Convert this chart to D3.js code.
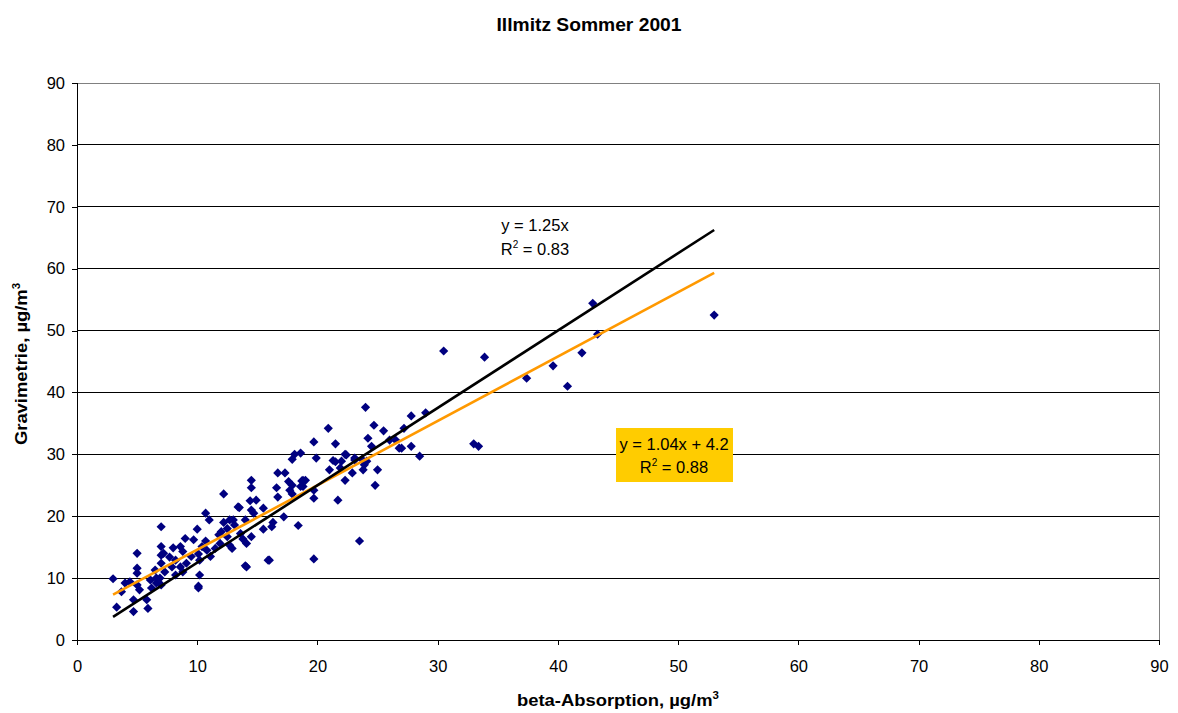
<!DOCTYPE html>
<html><head><meta charset="utf-8">
<script src="https://cdn.jsdelivr.net/npm/d3@7"></script>
<style>body{margin:0;background:#fff}svg{display:block}text{font-family:"Liberation Sans",Arial,sans-serif}</style>
</head><body><svg id="c" width="1178" height="713"></svg>
<script>
const title = "Illmitz Sommer 2001";
const xTicks = [0,10,20,30,40,50,60,70,80,90];
const yTicks = [0,10,20,30,40,50,60,70,80,90];
const beta = [53.0,42.9,43.3,42.0,40.8,39.6,37.4,30.5,33.9,33.0,33.4,23.5,19.7,15.9,14.1,29.0,27.8,28.5,27.8,27.0,27.2,26.5,25.0,24.8,25.5,24.7,24.0,24.2,24.5,23.7,23.1,22.9,22.3,22.0,22.3,21.7,21.5,21.0,21.5,20.9,23.9,24.1,19.7,26.0,26.8,18.6,19.9,21.3,22.4,23.1,21.9,23.8,18.8,18.6,19.7,19.7,18.1,17.9,16.7,17.3,14.5,14.5,16.6,17.6,17.9,18.7,19.0,18.8,17.7,17.9,16.7,14.4,14.9,13.5,14.5,15.5,14.7,17.2,13.0,14.0,16.3,16.2,15.5,18.4,13.6,14.5,13.8,14.1,12.9,16.0,14.0,12.2,10.7,11.0,7.0,10.0,12.2,12.7,13.1,12.5,12.0,11.8,9.0,9.7,12.7,7.0,8.0,8.6,8.8,10.4,10.8,11.5,11.9,12.5,7.0,7.7,8.2,9.5,10.1,11.1,7.0,7.9,8.6,9.1,10.2,6.5,7.3,8.2,8.8,10.2,6.6,10.1,7.2,5.0,5.0,5.0,3.0,4.0,4.4,5.0,5.2,6.1,6.9,6.6,7.0,6.2,3.7,4.7,5.8,5.9,3.3,4.7,10.1,10.7,13.4];
const gravi = [52.5,54.4,49.4,46.4,41.0,44.3,42.3,46.7,45.7,31.7,31.3,16.0,13.1,12.9,11.8,36.7,36.2,29.7,31.3,31.0,34.2,32.3,27.5,25.0,33.8,34.7,37.6,32.6,31.3,29.2,29.1,27.0,30.0,28.9,25.8,22.6,28.8,27.5,31.7,34.2,28.3,28.9,32.0,32.3,31.0,30.2,29.4,29.0,29.9,29.4,27.8,27.5,25.8,24.8,24.2,22.9,30.0,29.2,27.0,27.0,25.8,24.6,24.6,25.6,25.0,25.7,25.8,24.8,24.2,23.6,23.1,22.5,22.6,21.4,21.0,21.3,20.5,19.9,19.4,19.4,19.0,18.3,17.9,18.5,17.2,16.7,16.3,15.6,14.8,12.9,12.0,23.6,20.5,19.4,18.3,17.9,19.0,19.4,18.6,18.0,17.5,17.0,16.4,16.2,15.3,15.1,14.9,15.1,14.3,15.1,14.5,14.8,15.6,16.7,13.7,13.4,12.9,13.5,13.9,13.5,12.4,11.8,11.8,12.4,12.9,11.3,11.0,10.5,11.0,10.5,10.0,8.7,14.0,14.0,11.6,10.8,9.9,9.2,9.4,8.9,8.1,9.7,10.0,9.2,8.9,8.4,7.8,6.5,6.5,5.1,5.3,4.6,8.4,16.0,21.5];
const fitX = [3,53];
const fit1 = {slope:1.25, intercept:0, label1:"y = 1.25x", r2:"0.83"};
const fit2 = {slope:1.04, intercept:4.2, label1:"y = 1.04x + 4.2", r2:"0.88"};

const svg = d3.select("#c");
const L=77, R=1159, T=83, B=640;
const x = d3.scaleLinear().domain([0,90]).range([L,R]);
const y = d3.scaleLinear().domain([0,90]).range([B,T]);

svg.append("text").attr("x",0).attr("y",0).attr("text-anchor","middle")
  .attr("font-size",18).attr("font-weight","bold").attr("transform","translate(589,31) scale(1.07,1)").text(title);

// grid
svg.append("g").selectAll("line").data(yTicks.filter(d=>d>0 && d<90)).join("line")
  .attr("x1",L).attr("x2",R).attr("y1",d=>y(d)).attr("y2",d=>y(d)).attr("stroke","#000").attr("stroke-width",1).attr("shape-rendering","crispEdges");
svg.append("line").attr("x1",L).attr("x2",R).attr("y1",T).attr("y2",T).attr("stroke","#808080").attr("shape-rendering","crispEdges");
svg.append("line").attr("x1",R).attr("x2",R).attr("y1",T).attr("y2",B).attr("stroke","#808080").attr("shape-rendering","crispEdges");

const xa = svg.append("g").attr("transform",`translate(0,${B})`).call(d3.axisBottom(x).tickValues(xTicks).tickSize(5).tickPadding(15));
const ya = svg.append("g").attr("transform",`translate(${L},0)`).call(d3.axisLeft(y).tickValues(yTicks).tickSize(5).tickPadding(7));
[xa,ya].forEach(a=>{a.selectAll("text").attr("font-size",16.5).attr("fill","#000").attr("font-family","Liberation Sans, Arial, sans-serif");
  a.selectAll("line,path").attr("stroke","#000").attr("shape-rendering","crispEdges");});

// points
const diamond = "M0,-4.6L4.6,0L0,4.6L-4.6,0Z";
svg.append("g").selectAll("path").data(beta.map((b,i)=>[b,gravi[i]])).join("path")
  .attr("d",diamond).attr("transform",d=>`translate(${x(d[0])},${y(d[1])})`).attr("fill","#000080");

// fits
function fitLine(f,color){
  svg.append("line").attr("x1",x(fitX[0])).attr("y1",y(f.slope*fitX[0]+f.intercept))
    .attr("x2",x(fitX[1])).attr("y2",y(f.slope*fitX[1]+f.intercept)).attr("stroke",color).attr("stroke-width",2.6);
}
fitLine(fit2,"#FF9900");
fitLine(fit1,"#000000");

function eqLabel(f,cx,cy,gap){
  const g=svg.append("g");
  g.append("text").attr("x",cx).attr("y",cy).attr("text-anchor","middle").attr("font-size",16.5).text(f.label1);
  const t=g.append("text").attr("x",cx).attr("y",cy+gap).attr("text-anchor","middle").attr("font-size",16.5);
  t.append("tspan").text("R");
  t.append("tspan").attr("font-size",10).attr("dy",-7).text("2");
  t.append("tspan").attr("dy",7).text(" = "+f.r2);
}
eqLabel(fit1,535,231,24);
svg.append("rect").attr("x",616).attr("y",428).attr("width",117).attr("height",54).attr("fill","#FFCC00");
eqLabel(fit2,674,450,22.5);

// axis titles
const xt=svg.append("text").attr("transform","translate(618,706) scale(1.15,1)").attr("text-anchor","middle").attr("font-size",16).attr("font-weight","bold");
xt.append("tspan").text("beta-Absorption, µg/m");
xt.append("tspan").attr("font-size",10).attr("dy",-7).text("3");
const yt=svg.append("text").attr("transform","translate(27,364) rotate(-90) scale(1.15,1)").attr("text-anchor","middle").attr("font-size",16).attr("font-weight","bold");
yt.append("tspan").text("Gravimetrie, µg/m");
yt.append("tspan").attr("font-size",10).attr("dy",-7).text("3");
</script></body></html>
